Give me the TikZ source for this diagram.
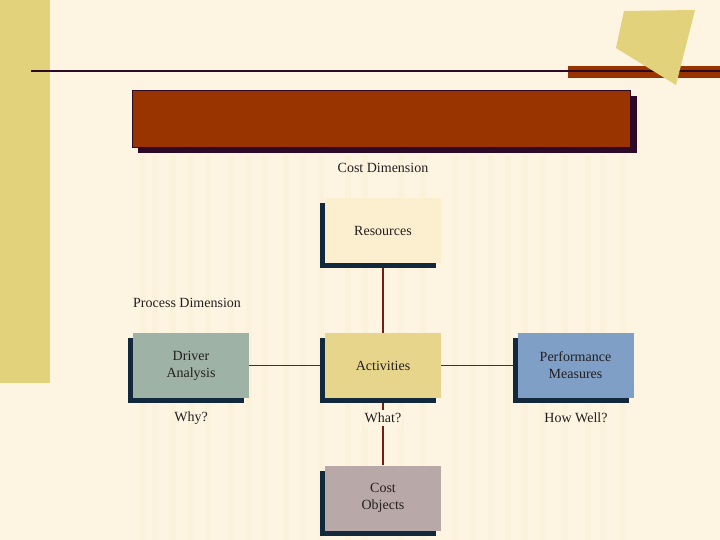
\documentclass[tikz,border=0pt]{standalone}
\usepackage{fontspec}
\setmainfont{Liberation Serif}
\definecolor{bgc}{HTML}{FDF5E2}
\definecolor{barc}{HTML}{E2D27C}
\definecolor{rust}{HTML}{993300}
\definecolor{plum}{HTML}{2E0A26}
\definecolor{navy}{HTML}{12283C}
\definecolor{linec}{HTML}{7A1A10}
\definecolor{resc}{HTML}{FCEFD0}
\definecolor{drvc}{HTML}{9FB2A6}
\definecolor{actc}{HTML}{E8D58C}
\definecolor{perc}{HTML}{7F9FC6}
\definecolor{cstc}{HTML}{B9A8A8}
\definecolor{stripc}{HTML}{FCF1DA}
\definecolor{txtc}{HTML}{231F20}
\pgfdeclarelayer{bg}
\pgfdeclarelayer{cn}
\pgfsetlayers{bg,cn,main}
\begin{document}
\begin{tikzpicture}[x=1pt,y=-1pt,
  box/.style={minimum width=116pt,minimum height=65pt,inner sep=0pt,align=center,
    font=\fontsize{14}{17}\selectfont,text=txtc},
  lbl/.style={font=\fontsize{14}{17}\selectfont,text=txtc,inner sep=1pt},
  conn/.style={draw=linec,line width=1.5pt}]
\useasboundingbox (0,0) rectangle (720,540);
\begin{pgfonlayer}{bg}
\fill[bgc] (0,0) rectangle (720,540);
\foreach \x in {140,152,170,188,205,228,246,262,283,300,318,345,362,398,420,452,470,488,505,522,540,562,585,600,620}
  \fill[stripc] (\x,155) rectangle ++(6,385);
\end{pgfonlayer}
\fill[barc] (0,0) rectangle (50,383);
\fill[rust] (568,66) rectangle (720,78);
\draw[plum,line width=2pt] (31,71) -- (720,71);
\fill[barc] (624,11) -- (695,10) -- (676,85) -- (616,48) -- cycle;
% title box
\fill[plum] (138,96) rectangle (637,153);
\draw[fill=rust,draw=plum,line width=0.6pt] (132,90) rectangle (630,147);
\node[lbl] (cd) at (383,168) {Cost Dimension};
\node[lbl,anchor=west] (pd) at (132,303) {Process Dimension};
% boxes with shadow
\foreach \nm/\cx/\cy/\col/\txt in {res/383/230.5/resc/Resources, drv/191/365.5/drvc/Driver\\Analysis, act/383/365.5/actc/Activities, per/575.5/365.5/perc/Performance\\Measures, cst/383/498/cstc/Cost\\Objects}{
  \fill[navy] (\cx-63,\cy-27.5) rectangle (\cx+53,\cy+37.5);
  \node[box,fill=\col] (\nm) at (\cx,\cy) {\txt};
}
\begin{pgfonlayer}{cn}
\draw[conn] (res.south) -- (act.north);
\draw[conn] (drv.east) -- (act.west);
\draw[conn] (act.east) -- (per.west);
\draw[conn] (act.south) -- (cst.north);
\end{pgfonlayer}
\node[lbl] (why) at (191,418) {Why?};
\node[lbl,fill=bgc,inner ysep=3pt] (what) at (383,418) {What?};
\node[lbl] (how) at (576,418) {How Well?};
\end{tikzpicture}
\end{document}
